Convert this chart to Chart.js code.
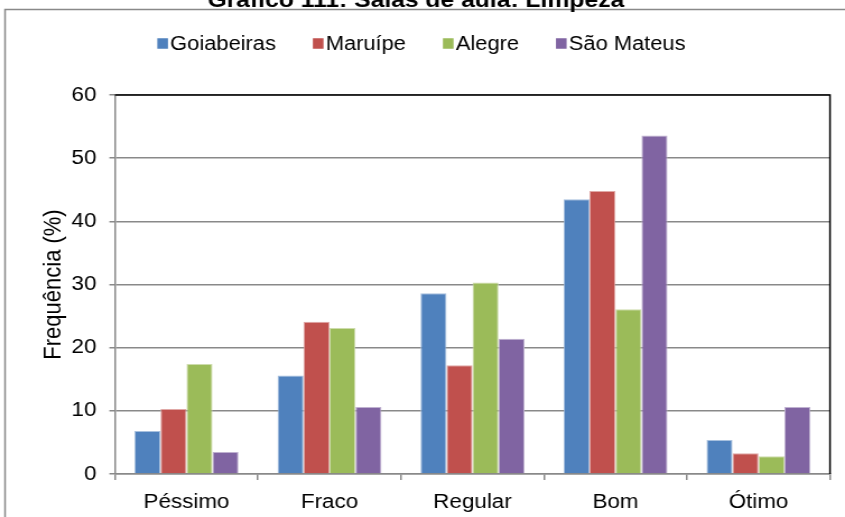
<!DOCTYPE html>
<html>
<head>
<meta charset="utf-8">
<title>Salas de aula: Limpeza</title>
<script src="https://cdn.jsdelivr.net/npm/chart.js"></script>
<style>
  html, body { margin: 0; padding: 0; background: #fff; overflow: hidden; }
  #wrap { width: 845px; height: 517px; overflow: hidden; }
  /* o original é uma figura do Excel esticada na horizontal */
  #grafico { transform: scaleX(1.1207); transform-origin: 0 0; }
</style>
</head>
<body>
<div id="wrap"><canvas id="grafico" width="754" height="517"></canvas></div>
<script>
// Dados do gráfico
const titulo = 'Gráfico 111: Salas de aula: Limpeza';
const categorias = ['Péssimo', 'Fraco', 'Regular', 'Bom', 'Ótimo'];
const series = ['Goiabeiras', 'Maruípe', 'Alegre', 'São Mateus'];
const goiabeiras = [6.8, 15.6, 28.6, 43.5, 5.4];
const maruipe = [10.3, 24.1, 17.2, 44.8, 3.3];
const alegre = [17.4, 23.1, 30.3, 26.1, 2.8];
const saoMateus = [3.5, 10.6, 21.4, 53.6, 10.6];
const ticksY = [0, 10, 20, 30, 40, 50, 60];
const cores = ['#4f81bd', '#c0504d', '#9bbb59', '#8064a2'];
const bordas = ['#a7c0de', '#e0a8a6', '#cddcac', '#bfb1d0'];

const fonte = 'Arial, "Liberation Sans", sans-serif';
const cinza = '#898989';

// moldura externa + título (cortado no topo, como no original)
const moldura = {
    id: 'moldura',
    beforeDraw(chart) {
        const ctx = chart.ctx;
        ctx.save();
        ctx.fillStyle = '#fff';
        ctx.fillRect(0, 0, chart.width, chart.height);
        ctx.strokeStyle = cinza;
        ctx.lineWidth = 1.5;
        ctx.strokeRect(4.5, 9.5, 900, 600);
        ctx.fillStyle = '#000';
        ctx.font = 'bold 22px ' + fonte;
        ctx.textAlign = 'center';
        ctx.textBaseline = 'alphabetic';
        ctx.fillText(titulo, 371, 7);
        ctx.restore();
    }
};

// legenda desenhada à mão para ficar igual ao Excel
const legenda = {
    id: 'legenda',
    afterDraw(chart) {
        const ctx = chart.ctx;
        ctx.save();
        ctx.font = '19.5px ' + fonte;
        ctx.textBaseline = 'middle';
        ctx.textAlign = 'left';
        const caixaW = 9.5, caixaH = 10.5, gap = 2, espaco = 33;
        const itens = chart.data.datasets.map(ds => ({ label: ds.label, cor: ds.backgroundColor, w: ctx.measureText(ds.label).width }));
        let total = 0;
        itens.forEach((it, i) => { total += caixaW + gap + it.w + (i < itens.length - 1 ? espaco : 0); });
        let x = 376 - total / 2;
        const y = 43.5;
        itens.forEach(it => {
            ctx.fillStyle = it.cor;
            ctx.fillRect(x, y - caixaH / 2, caixaW, caixaH);
            ctx.fillStyle = '#000';
            ctx.fillText(it.label, x + caixaW + gap, y + 1);
            x += caixaW + gap + it.w + espaco;
        });
        ctx.restore();
    }
};

// borda preta em cima e à direita da área do gráfico
const bordaArea = {
    id: 'bordaArea',
    afterDraw(chart) {
        const a = chart.chartArea;
        const ctx = chart.ctx;
        ctx.save();
        ctx.strokeStyle = '#000';
        ctx.lineWidth = 1.5;
        ctx.beginPath();
        ctx.moveTo(a.left, a.top);
        ctx.lineTo(a.right, a.top);
        ctx.lineTo(a.right, a.bottom);
        ctx.stroke();
        ctx.restore();
    }
};

const dadosSeries = [goiabeiras, maruipe, alegre, saoMateus];

const ctx = document.getElementById('grafico').getContext('2d');
const chart = new Chart(ctx, {
    type: 'bar',
    data: {
        labels: categorias,
        datasets: series.map((nome, i) => ({
            label: nome,
            data: dadosSeries[i],
            backgroundColor: cores[i],
            borderColor: bordas[i],
            borderWidth: 1,
            borderSkipped: 'bottom',
            categoryPercentage: 0.727,
            barPercentage: 1
        }))
    },
    options: {
        responsive: false,
        animation: false,
        devicePixelRatio: 1,
        layout: { padding: { left: 0, top: 95, right: 13.4, bottom: 0 } },
        plugins: {
            legend: { display: false },
            title: { display: false },
            tooltip: { enabled: false }
        },
        scales: {
            x: {
                grid: { drawOnChartArea: false, offset: true, tickLength: 6, color: cinza, lineWidth: 1.5 },
                border: { color: cinza, width: 1.5 },
                ticks: { color: '#000', font: { family: fonte, size: 20 }, padding: 10 },
                afterFit(scale) { scale.height = 517 - 474; }
            },
            y: {
                min: 0,
                max: 60,
                afterBuildTicks(scale) { scale.ticks = ticksY.map(v => ({ value: v })); },
                grid: { color: cinza, lineWidth: 1.5, tickLength: 5 },
                border: { color: cinza, width: 1.5 },
                ticks: { color: '#000', font: { family: fonte, size: 20 }, padding: 11.5 },
                title: {
                    display: true,
                    text: 'Frequência (%)',
                    color: '#000',
                    font: { family: fonte, size: 22 },
                    padding: { top: 34.5, bottom: 0 }
                },
                afterFit(scale) { scale.width = 102.6; }
            }
        }
    },
    plugins: [moldura, legenda, bordaArea]
});
</script>
</body>
</html>
